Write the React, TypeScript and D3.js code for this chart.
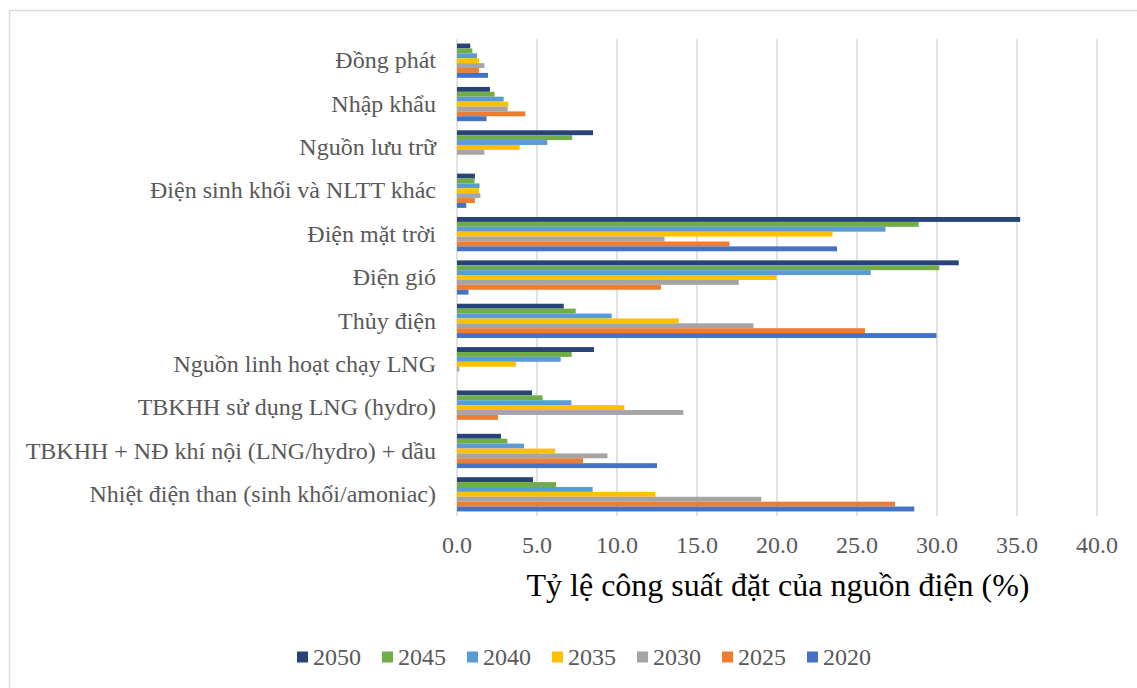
import * as d3 from 'd3';

const categories = [
  'Đồng phát',
  'Nhập khẩu',
  'Nguồn lưu trữ',
  'Điện sinh khối và NLTT khác',
  'Điện mặt trời',
  'Điện gió',
  'Thủy điện',
  'Nguồn linh hoạt chạy LNG',
  'TBKHH sử dụng LNG (hydro)',
  'TBKHH + NĐ khí nội (LNG/hydro) + dầu',
  'Nhiệt điện than (sinh khối/amoniac)',
];

const years = ['2050', '2045', '2040', '2035', '2030', '2025', '2020'];

// values per year, in the same order as categories
const v2050 = [0.83, 2.06, 8.5, 1.12, 35.2, 31.36, 6.67, 8.56, 4.69, 2.75, 4.75];
const v2045 = [0.96, 2.35, 7.2, 1.1, 28.86, 30.14, 7.42, 7.17, 5.35, 3.15, 6.19];
const v2040 = [1.25, 2.92, 5.64, 1.41, 26.78, 25.86, 9.67, 6.48, 7.15, 4.19, 8.48];
const v2035 = [1.37, 3.21, 3.92, 1.37, 23.47, 19.97, 13.86, 3.69, 10.46, 6.13, 12.4];
const v2030 = [1.71, 3.17, 1.71, 1.46, 12.97, 17.61, 18.53, 0.15, 14.15, 9.4, 19.02];
const v2025 = [1.37, 4.27, 0, 1.12, 17.03, 12.75, 25.5, 0, 2.56, 7.88, 27.38];
const v2020 = [1.94, 1.85, 0, 0.58, 23.75, 0.72, 29.97, 0, 0, 12.5, 28.58];

const seriesValues = [v2050, v2045, v2040, v2035, v2030, v2025, v2020];
const seriesColors = ['#264478', '#70AD47', '#5B9BD5', '#FFC000', '#A5A5A5', '#ED7D31', '#4472C4'];

const xTicks = [0, 5, 10, 15, 20, 25, 30, 35, 40];

const width = 1137;
const height = 688;
const plot = { left: 457, right: 1097, top: 39, bottom: 516 };
const serif = { fontFamily: 'Liberation Serif' };

export default function App() {
  const x = d3.scaleLinear().domain([0, 40]).range([plot.left, plot.right]);
  const y = d3
    .scaleBand<string>()
    .domain(categories)
    .range([plot.top, plot.bottom])
    .paddingInner(0.21)
    .paddingOuter(0.105);
  const yInner = d3.scaleBand<string>().domain(years).range([0, y.bandwidth()]);

  const legendX = d3.scalePoint<string>().domain(years).range([297, 807]);

  return (
    <svg
      width={width}
      height={height}
      style={{ position: 'absolute', left: 0, top: 0, background: '#fff' }}
    >
      <rect x={0} y={0} width={width} height={height} fill="#fff" />
      {/* chart frame */}
      <path d={`M9.5,${height + 2}V10.5H${width + 2}`} fill="none" stroke="#d9d9d9" strokeWidth={1.5} />

      {/* gridlines */}
      {xTicks.map((t) => (
        <line
          key={t}
          x1={x(t)}
          x2={x(t)}
          y1={plot.top}
          y2={plot.bottom}
          stroke="#d9d9d9"
          strokeWidth={1.5}
        />
      ))}

      {/* bars */}
      {categories.map((cat, ci) => (
        <g key={cat} transform={`translate(0,${y(cat)})`}>
          {years.map((yr, si) => {
            const val = seriesValues[si][ci];
            if (!val) return null;
            return (
              <rect
                key={yr}
                x={x(0)}
                y={yInner(yr)}
                width={x(val) - x(0)}
                height={yInner.bandwidth()}
                fill={seriesColors[si]}
              />
            );
          })}
        </g>
      ))}

      {/* category labels */}
      {categories.map((cat) => (
        <text
          key={cat}
          x={436}
          y={(y(cat) ?? 0) + y.bandwidth() / 2}
          dy="0.32em"
          textAnchor="end"
          style={serif}
          fontSize={24}
          fill="#595959"
        >
          {cat}
        </text>
      ))}

      {/* x tick labels */}
      {xTicks.map((t) => (
        <text key={t} x={x(t)} y={553} textAnchor="middle" style={serif} fontSize={24} fill="#595959">
          {t.toFixed(1)}
        </text>
      ))}

      {/* axis title */}
      <text
        x={(plot.left + plot.right) / 2 + 1}
        y={596}
        textAnchor="middle"
        style={serif}
        fontSize={32}
        fill="#000"
      >
        Tỷ lệ công suất đặt của nguồn điện (%)
      </text>

      {/* legend */}
      {years.map((yr, si) => (
        <g key={yr} transform={`translate(${legendX(yr)},657)`}>
          <rect x={0} y={-5.5} width={11} height={11} fill={seriesColors[si]} />
          <text x={16} y={0} dy="0.35em" style={serif} fontSize={24} fill="#595959">
            {yr}
          </text>
        </g>
      ))}
    </svg>
  );
}
